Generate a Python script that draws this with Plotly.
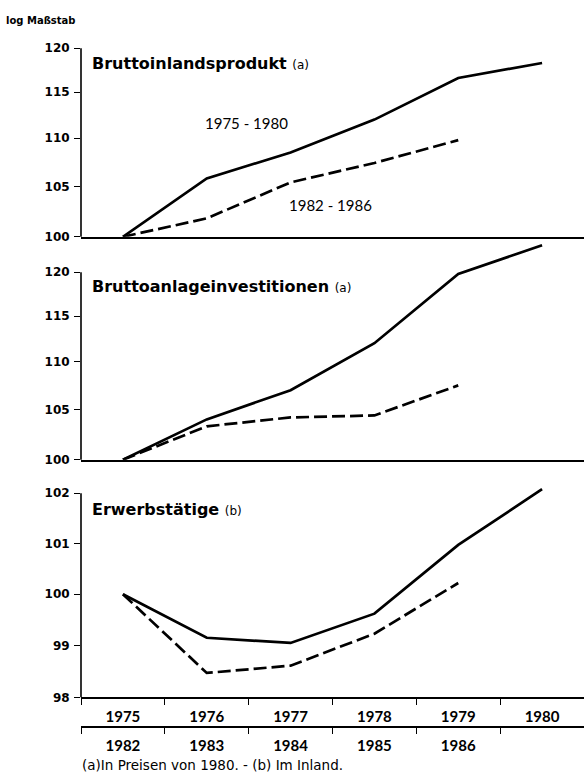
import numpy as np
import plotly.graph_objects as go

# period labels
years_a = [1975, 1976, 1977, 1978, 1979, 1980]
years_b = [1982, 1983, 1984, 1985, 1986]

# index values (start year = 100)
bip_a = [100, 105.8, 108.5, 112.0, 116.6, 118.3]
bip_b = [100, 101.8, 105.4, 107.4, 109.8]
inv_a = [100, 104.0, 107.0, 112.0, 119.8, 123.2]
inv_b = [100, 103.3, 104.2, 104.4, 107.5]
erw_a = [100, 99.15, 99.05, 99.62, 100.97, 102.08]
erw_b = [100, 98.47, 98.61, 99.23, 100.22]

# y tick labels per panel
ticks_1 = [100, 105, 110, 115, 120]
ticks_2 = [100, 105, 110, 115, 120]
ticks_3 = [98, 99, 100, 101, 102]

ranges = {1: (100, 120), 2: (100, 123.5), 3: (98, 102.15)}
domains = {1: [0.6996, 0.9461], 2: [0.4082, 0.6919], 3: [0.0976, 0.3743]}

WIDE = "DejaVu Sans"
NARROW = "Lato"
INK = "black"
solid = dict(color=INK, width=2.7)
dashed = dict(color=INK, width=2.7, dash="13px,5px")

fig = go.Figure()

panels = [
    (1, bip_a, bip_b, "x", "x5", "y"),
    (2, inv_a, inv_b, "x2", "x6", "y2"),
    (3, erw_a, erw_b, "x3", "x4", "y3"),
]
for n, ya, yb, xa, xb, yax in panels:
    fig.add_trace(go.Scatter(x=years_a, y=ya, mode="lines", line=solid,
                             xaxis=xa, yaxis=yax, showlegend=False,
                             name="1975 - 1980"))
    fig.add_trace(go.Scatter(x=years_b, y=yb, mode="lines", line=dashed,
                             xaxis=xb, yaxis=yax, showlegend=False,
                             name="1982 - 1986"))

rng_a = [years_a[0] - 0.5, years_a[-1] + 0.5]
rng_b = [years_b[0] - 0.5, years_b[0] + len(years_a) - 0.5]
bounds_a = [rng_a[0] + i for i in range(len(years_a) + 1)]
bounds_b = [rng_b[0] + i for i in range(len(years_a) + 1)]

plain_x = dict(range=rng_a, showline=True, linecolor=INK, linewidth=1.6,
               showgrid=False, zeroline=False, showticklabels=False,
               ticks="", fixedrange=True)
ytickfont = dict(family=WIDE, size=12, color=INK, weight="bold")
xtickfont = dict(family=NARROW, size=15, color=INK, weight="bold")

def ytick_axis(n, tv):
    lo, hi = ranges[n]
    return dict(type="log", range=[np.log10(lo), np.log10(hi)],
                domain=domains[n], tickvals=tv, ticktext=[str(t) for t in tv],
                ticks="outside", ticklen=6, tickwidth=1.4, tickcolor=INK,
                showline=False, showgrid=False, zeroline=False,
                tickfont=ytickfont, ticklabelstandoff=2,
                anchor="x" if n == 1 else f"x{n}")

year_axis = dict(showline=True, linecolor=INK, linewidth=1.6,
                 showgrid=False, zeroline=False, ticks="",
                 tickfont=xtickfont, ticklabelstandoff=5)

layout_axes = dict(
    xaxis=dict(plain_x, anchor="y"),
    xaxis2=dict(plain_x, anchor="y2"),
    xaxis3=dict(year_axis, range=rng_a, anchor="y3",
                tickvals=years_a, ticktext=[str(y) for y in years_a],
                minor=dict(tickvals=bounds_a, ticks="outside", ticklen=6,
                           tickwidth=1.4, tickcolor=INK)),
    xaxis4=dict(year_axis, range=rng_b, overlaying="x3", anchor="free",
                position=0.0591, side="bottom",
                tickvals=years_b, ticktext=[str(y) for y in years_b],
                minor=dict(tickvals=bounds_b, ticks="outside", ticklen=6,
                           tickwidth=1.4, tickcolor=INK)),
    xaxis5=dict(range=rng_b, overlaying="x", anchor="y", visible=False),
    xaxis6=dict(range=rng_b, overlaying="x2", anchor="y2", visible=False),
    yaxis=ytick_axis(1, ticks_1),
    yaxis2=ytick_axis(2, ticks_2),
    yaxis3=ytick_axis(3, ticks_3),
)

# vertical axis lines only up to the top tick
shapes = []
for n, tv in [(1, ticks_1), (2, ticks_2), (3, ticks_3)]:
    lo, hi = ranges[n]
    top = (np.log10(tv[-1]) - np.log10(lo)) / (np.log10(hi) - np.log10(lo))
    xs = "x" if n == 1 else f"x{n}"
    ys = "y" if n == 1 else f"y{n}"
    shapes.append(dict(type="line", xref=f"{xs} domain", yref=f"{ys} domain",
                       x0=0, x1=0, y0=0, y1=top,
                       line=dict(color=INK, width=1.6)))

def note(text, x, y, size=13, family=WIDE, weight="normal"):
    return dict(text=text, x=x, y=y, xref="paper", yref="paper",
                xanchor="left", yanchor="middle", showarrow=False,
                font=dict(family=family, size=size, color=INK, weight=weight))

small = "<span style='font-size:12px;font-weight:normal'>(%s)</span>"
annotations = [
    note("log Maßstab", -0.153, 0.982, size=10, weight="bold"),
    note("Bruttoinlandsprodukt " + small % "a", 0.018, 0.9255,
         size=16, weight="bold"),
    note("Bruttoanlageinvestitionen " + small % "a", 0.018, 0.6341,
         size=16, weight="bold"),
    note("Erwerbstätige " + small % "b", 0.018, 0.3427,
         size=16, weight="bold"),
    note("1975 - 1980", 0.2425, 0.8485, size=15, family=NARROW),
    note("1982 - 1986", 0.4095, 0.7407, size=15, family=NARROW),
    note("(a)In Preisen von 1980. - (b) Im Inland.", -0.002, 0.009,
         size=13.5),
]

fig.update_layout(
    width=584, height=779,
    margin=dict(l=81, r=0, t=0, b=0),
    paper_bgcolor="white", plot_bgcolor="white",
    font=dict(family=WIDE, size=12, color=INK),
    shapes=shapes, annotations=annotations,
    **layout_axes,
)

fig.write_html("out.html",
               config={"displayModeBar": False},
               post_script="document.body.style.margin='0';"
                           "document.body.style.overflow='hidden';")
